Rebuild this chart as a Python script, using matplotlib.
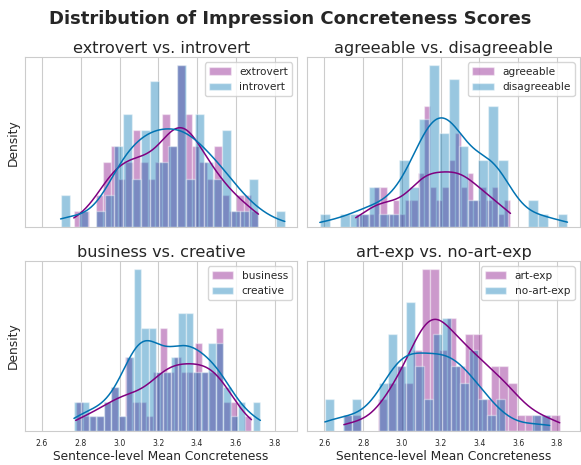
import numpy as np
import matplotlib
matplotlib.use("Agg")
import matplotlib.pyplot as plt
import seaborn as sns

sns.set_style("whitegrid")

# panel titles and the two groups compared in each one
titles = ["extrovert vs. introvert", "agreeable vs. disagreeable",
          "business vs. creative", "art-exp vs. no-art-exp"]
group_a = ["extrovert", "agreeable", "business", "art-exp"]
group_b = ["introvert", "disagreeable", "creative", "no-art-exp"]

# min / max score of each group (histogram spans this range with 25 bins)
range_a = [(2.764, 3.717), (2.761, 3.560), (2.774, 3.681), (2.700, 3.814)]
range_b = [(2.696, 3.853), (2.576, 3.854), (2.765, 3.727), (2.602, 3.762)]

# counts per bin
counts_a = [
    [1, 1, 0, 2, 4, 5, 3, 4, 6, 4, 3, 4, 7, 5, 10, 7, 5, 4, 3, 5, 2, 1, 2, 2, 1],
    [1, 1, 1, 3, 3, 1, 2, 1, 2, 2, 4, 9, 3, 2, 3, 5, 7, 3, 4, 2, 3, 2, 3, 1, 2],
    [2, 1, 1, 1, 2, 3, 1, 5, 2, 2, 1, 4, 7, 4, 5, 4, 4, 6, 4, 4, 7, 2, 2, 0, 1],
    [1, 1, 0, 0, 2, 3, 4, 3, 5, 10, 10, 5, 7, 4, 6, 6, 2, 4, 4, 3, 1, 1, 1, 1, 1],
]
counts_b = [
    [2, 0, 1, 0, 1, 2, 5, 7, 3, 6, 9, 4, 5, 10, 3, 7, 4, 3, 6, 1, 1, 3, 0, 0, 1],
    [1, 0, 1, 1, 1, 3, 1, 1, 5, 3, 8, 12, 7, 11, 6, 2, 5, 9, 5, 0, 0, 2, 1, 0, 1],
    [2, 2, 1, 1, 2, 3, 1, 5, 11, 7, 7, 4, 4, 5, 8, 8, 4, 4, 6, 6, 3, 1, 2, 0, 2],
    [2, 0, 1, 2, 0, 0, 3, 6, 4, 8, 4, 2, 6, 7, 4, 3, 5, 2, 1, 2, 0, 0, 0, 1, 1],
]

color_a = "purple"
color_b = "#0173B2"


def hist_kde(ax, lo, hi, counts, color, label):
    counts = np.asarray(counts)
    edges = np.linspace(lo, hi, len(counts) + 1)
    centers = (edges[:-1] + edges[1:]) / 2
    ax.hist(centers, bins=edges, weights=counts, color=color, alpha=0.4,
            edgecolor="white", linewidth=1, label=label)
    # gaussian kde (scott bandwidth), scaled to counts
    vals = np.repeat(centers, counts)
    bw = vals.std(ddof=1) * len(vals) ** (-1 / 5)
    xs = np.linspace(lo, hi, 300)
    dens = np.exp(-0.5 * ((xs[:, None] - vals[None, :]) / bw) ** 2).sum(1)
    dens /= len(vals) * bw * np.sqrt(2 * np.pi)
    ax.plot(xs, dens * len(vals) * (edges[1] - edges[0]), color=color, lw=1.1)


fig, axes = plt.subplots(2, 2, figsize=(5.81, 4.65), dpi=100, sharex=True)
fig.subplots_adjust(left=0.043, right=0.998, bottom=0.073, top=0.877,
                    wspace=0.037, hspace=0.2)

for i, ax in enumerate(axes.flat):
    hist_kde(ax, *range_a[i], counts_a[i], color_a, group_a[i])
    hist_kde(ax, *range_b[i], counts_b[i], color_b, group_b[i])
    ax.set_title(titles[i], fontsize=11.6, pad=3)
    ax.set_yticks([])
    ax.set_ylabel("Density" if i % 2 == 0 else "", fontsize=8.8, labelpad=4)
    ax.tick_params(axis="x", labelsize=5.6, pad=2)
    ax.legend(loc="upper right", fontsize=7.6, handlelength=2)
    if i >= 2:
        ax.set_xlabel("Sentence-level Mean Concreteness", fontsize=8.8, labelpad=2)

fig.suptitle("Distribution of Impression Concreteness Scores",
             fontsize=13, fontweight="bold", y=0.979)
fig.savefig("out.png", dpi=100)
